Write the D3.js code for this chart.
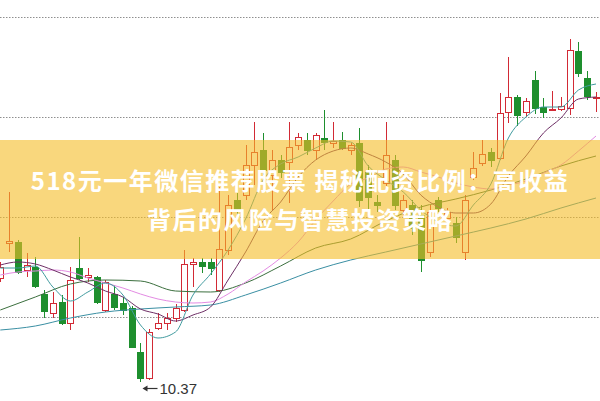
<!DOCTYPE html>
<html><head><meta charset="utf-8">
<script src="https://cdn.jsdelivr.net/npm/d3@7/dist/d3.min.js"></script>
<style>html,body{margin:0;padding:0;background:#fff;overflow:hidden}</style>
</head><body><svg id="c" width="600" height="401"></svg>
<script>
// ---- data ----
const openP  = [11.41,11.76,11.77,11.49,11.52,11.25,11.06,11.17,10.96,11.51,11.42,11.42,11.09,11.25,11.16,11.11,10.67,10.41,10.91,10.96,11.01,11.09,11.55,11.57,11.57,11.29,11.69,12.19,12.24,12.54,12.69,12.44,12.59,12.57,12.74,12.79,12.69,12.81,12.76,12.79,12.69,12.76,12.47,12.17,12.36,12.59,12.09,12.14,12.04,11.67,12.19,12.01,11.96,11.67,12.42,12.56,12.67,12.61,13.07,13.22,13.07,13.39,13.12,13.09,13.10,13.11,13.68,13.41,13.21];
const highP  = [11.57,12.27,11.79,11.66,11.62,11.29,11.27,11.24,11.52,11.82,11.51,11.43,11.39,11.34,11.22,11.13,10.76,10.90,11.06,11.06,11.15,11.69,11.61,11.61,11.61,12.32,12.24,12.26,12.74,12.97,12.86,12.69,12.64,12.97,12.86,12.86,12.86,13.09,12.97,12.87,12.76,12.91,12.54,12.24,12.97,12.64,12.24,12.19,12.14,12.14,12.22,12.11,12.02,12.24,12.67,12.79,12.71,13.26,13.62,13.24,13.21,13.48,13.21,13.28,13.22,13.80,13.77,13.48,13.27];
const lowP   = [11.37,11.67,11.45,11.42,11.31,11.01,11.01,10.94,10.89,11.39,11.37,11.15,11.07,11.09,11.04,10.71,10.37,10.39,10.89,10.89,10.97,11.07,11.32,11.46,11.44,11.27,11.64,12.04,12.19,12.34,12.44,12.09,12.41,12.16,12.69,12.64,12.59,12.69,12.71,12.69,12.64,12.12,12.09,12.07,12.33,12.09,12.04,11.84,11.47,11.62,12.07,11.97,11.76,11.59,12.39,12.53,12.52,12.59,12.96,12.93,13.02,13.05,13.01,13.08,13.08,13.04,13.42,13.19,13.07];
const closeP = [11.52,11.78,11.47,11.54,11.33,11.08,11.16,10.96,11.39,11.41,11.44,11.17,11.37,11.12,11.09,10.72,10.41,10.87,10.96,11.01,11.11,11.55,11.57,11.53,11.51,11.70,12.14,12.09,12.54,12.67,12.49,12.59,12.47,12.72,12.82,12.69,12.84,12.77,12.78,12.71,12.74,12.19,12.22,12.14,12.64,12.14,12.19,11.91,11.59,12.07,12.11,12.07,11.82,12.19,12.51,12.65,12.59,13.06,13.22,13.04,13.18,13.11,13.07,13.10,13.13,13.69,13.46,13.23,13.22];

// moving averages, read at every 2nd candle (0,2,...,68)
const ma5  = [11.51,11.51,11.53,11.32,11.18,11.27,11.36,11.24,10.94,10.81,10.87,11.24,11.45,11.69,12.00,12.39,12.55,12.62,12.71,12.78,12.77,12.53,12.39,12.27,12.09,11.97,11.93,12.14,12.35,12.81,13.02,13.12,13.12,13.29,13.35];
const ma10 = [11.54,11.57,11.55,11.49,11.42,11.36,11.28,11.22,11.10,11.05,10.98,11.04,11.12,11.39,11.67,11.98,12.17,12.42,12.59,12.68,12.71,12.65,12.57,12.45,12.24,12.12,12.06,12.06,12.15,12.43,12.63,12.86,13.01,13.20,13.22];
const ma20 = [11.44,11.47,11.48,11.49,11.47,11.41,11.36,11.31,11.25,11.20,11.17,11.16,11.17,11.25,11.37,11.48,11.61,11.77,11.99,12.18,12.35,12.41,12.50,12.52,12.47,12.42,12.36,12.32,12.30,12.34,12.38,12.46,12.54,12.68,12.83];
// slower averages, read at every 4th candle (0,4,...,68)
const ma30 = [11.09,11.22,11.35,11.39,11.38,11.28,11.27,11.36,11.53,11.71,11.80,11.98,12.12,12.20,12.29,12.40,12.53,12.63];
const ma60 = [10.89,10.93,11.01,11.07,11.10,11.12,11.14,11.24,11.36,11.49,11.59,11.67,11.75,11.83,11.91,12.00,12.11,12.21];

const gridPrices = [11.02, 12.02, 13.02, 14.02];
const lowValue = 10.37, lowIndex = 16;
const titleLines = ["518元一年微信推荐股票 揭秘配资比例：高收益", "背后的风险与智慧投资策略"];

// ---- drawing ----
const svg = d3.select("#c");
const n = openP.length;
const x = d3.scaleLinear().domain([0, n - 1]).range([0.3, 596]);
const y = d3.scaleLinear().domain([10, 14.19]).range([419, 0]);
const UP = "#d22a35", DOWN = "#1e8f2e";

svg.append("g").selectAll("line").data(gridPrices).join("line")
  .attr("x1", 0).attr("x2", 600)
  .attr("y1", d => Math.round(y(d)) + 0.5).attr("y2", d => Math.round(y(d)) + 0.5)
  .attr("stroke", "#8f8f8f").attr("stroke-width", 1).attr("stroke-dasharray", "1.5,1.5");

const candles = d3.range(n).map(i => ({i, o: openP[i], h: highP[i], l: lowP[i], c: closeP[i]}));
const cx = d => Math.round(x(d.i)) + 0.5;
const g = svg.append("g");
g.selectAll("line").data(candles).join("line")
  .attr("x1", cx).attr("x2", cx)
  .attr("y1", d => y(d.h)).attr("y2", d => y(d.l))
  .attr("stroke", d => d.c >= d.o ? UP : DOWN).attr("stroke-width", 1);
g.selectAll("rect").data(candles).join("rect")
  .attr("x", d => cx(d) - 3).attr("width", 6)
  .attr("y", d => Math.round(y(Math.max(d.o, d.c))) + 0.5)
  .attr("height", d => Math.max(1, Math.round(Math.abs(y(d.o) - y(d.c)))))
  .attr("fill", d => d.c >= d.o ? "#fff" : DOWN)
  .attr("stroke", d => d.c >= d.o ? UP : DOWN).attr("stroke-width", 1);

function maLine(vals, step, color) {
  const line = d3.line().x((v, k) => x(k * step)).y(v => y(v)).curve(d3.curveMonotoneX);
  svg.append("path").attr("d", line(vals)).attr("fill", "none")
    .attr("stroke", color).attr("stroke-width", 1);
}
maLine(ma60, 4, "#3a8fa3");
maLine(ma30, 4, "#3b6f3e");
maLine(ma20, 2, "#e38be3");
maLine(ma10, 2, "#6e2f66");
maLine(ma5, 2, "#3f9a9e");

// banner
svg.append("rect").attr("x", 0).attr("y", 140).attr("width", 600).attr("height", 119)
  .attr("fill", "#f5bc26").attr("opacity", 0.6);
svg.append("g").selectAll("text").data(titleLines).join("text")
  .attr("x", 300).attr("y", (d, k) => 190 + k * 39)
  .attr("text-anchor", "middle")
  .attr("font-family", "'Noto Sans CJK SC','Noto Sans',sans-serif")
  .attr("font-weight", "bold").attr("font-size", 24)
  .attr("letter-spacing", "1.5px")
  .attr("fill", "#fff").text(d => d);

// low annotation
const lx = Math.round(x(lowIndex)) + 2.5, ly = Math.round(y(lowValue)) + 6.5;
svg.append("line").attr("x1", lx + 2).attr("x2", lx + 15).attr("y1", ly).attr("y2", ly)
  .attr("stroke", "#333").attr("stroke-width", 1.2);
svg.append("path").attr("d", `M${lx},${ly} l5,-3 l0,6 z`).attr("fill", "#333");
svg.append("text").attr("x", lx + 17).attr("y", ly + 5.5)
  .attr("font-family", "'Liberation Sans',Arial,sans-serif").attr("font-size", 15)
  .attr("fill", "#333").text(lowValue.toFixed(2));
</script></body></html>
